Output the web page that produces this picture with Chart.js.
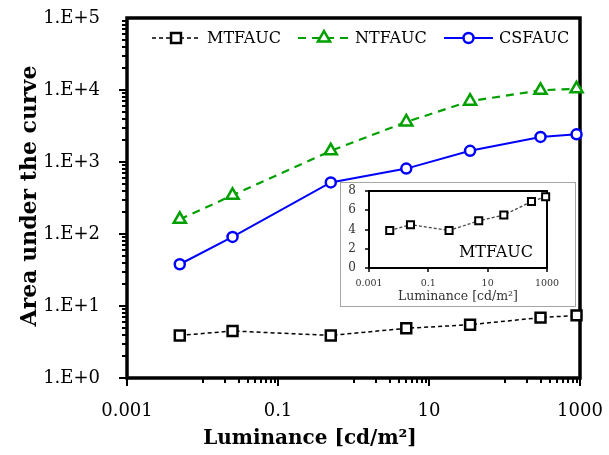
<!DOCTYPE html>
<html>
<head>
<meta charset="utf-8">
<script src="https://cdn.jsdelivr.net/npm/chart.js@4.4.0/dist/chart.umd.min.js"></script>
<style>
  body { margin: 0; background: #fff; }
  #wrap { position: relative; width: 609px; height: 455px; }
  #inset { position: absolute; left: 340px; top: 182px; width: 234px; height: 123px;
           border: 1px solid #a6a6a6; background: #fff; }
  canvas { display: block; }
</style>
</head>
<body>
<div id="wrap">
  <canvas id="main" width="609" height="455"></canvas>
  <div id="inset"><canvas id="small" width="234" height="123"></canvas></div>
</div>
<script>
// values
var luminance = [0.005, 0.025, 0.5, 5, 35, 300, 900];
var mtfauc = [3.9, 4.5, 3.9, 4.9, 5.5, 6.9, 7.4];
var ntfauc = [160, 345, 1430, 3600, 7000, 9900, 10400];
var csfauc = [38, 91, 520, 810, 1430, 2230, 2420];
var seriesNames = ['MTFAUC', 'NTFAUC', 'CSFAUC'];
var xTicks = [0.001, 0.1, 10, 1000];
var yTicks = [1, 10, 100, 1000, 10000, 100000];
var insetYTicks = [0, 2, 4, 6, 8];

var FONT = '"DejaVu Serif", serif';

function pts(ys) {
  return luminance.map(function (x, i) { return { x: x, y: ys[i] }; });
}

// fixed scale size, no extra room for overhanging labels
function fixSize(prop, n) {
  return function (s) {
    s[prop] = n;
    s.paddingTop = s.paddingBottom = s.paddingLeft = s.paddingRight = 0;
  };
}

function marker(ctx, style, x, y, r) {
  ctx.beginPath();
  if (style === 'rect') {
    var s = r * Math.SQRT1_2;
    ctx.rect(x - s, y - s, 2 * s, 2 * s);
  } else if (style === 'triangle') {
    for (var i = 0; i < 3; i++) {
      var a = i * 2 * Math.PI / 3;
      var px = x + Math.sin(a) * r, py = y - Math.cos(a) * r;
      if (i === 0) ctx.moveTo(px, py); else ctx.lineTo(px, py);
    }
    ctx.closePath();
  } else {
    ctx.arc(x, y, r, 0, Math.PI * 2);
  }
  ctx.fillStyle = '#fff';
  ctx.fill();
  ctx.stroke();
}

// legend line start, line end, text start
var legendPos = [[152, 200, 207], [298, 350, 355], [444, 493, 499]];

var mainDeco = {
  id: 'mainDeco',
  beforeDatasetsDraw: function (chart) {
    var ctx = chart.ctx, a = chart.chartArea;
    var xs = chart.scales.x, ys = chart.scales.y;
    ctx.save();
    ctx.strokeStyle = '#000';
    ctx.lineWidth = 2;
    ctx.beginPath();
    // y ticks, major + minor
    for (var e = 0; e < 5; e++) {
      for (var k = 1; k < 10; k++) {
        var py = Math.round(ys.getPixelForValue(k * Math.pow(10, e)));
        var len = k === 1 ? 8 : 5;
        ctx.moveTo(a.left - len, py); ctx.lineTo(a.left, py);
      }
    }
    // x ticks, major every 2 decades, minor at 10..90 x major
    xTicks.forEach(function (m) {
      var px = Math.round(xs.getPixelForValue(m));
      ctx.moveTo(px, a.bottom); ctx.lineTo(px, a.bottom + 8);
      if (m < 1000) {
        for (var k = 1; k < 10; k++) {
          var q = Math.round(xs.getPixelForValue(m * 10 * k));
          ctx.moveTo(q, a.bottom); ctx.lineTo(q, a.bottom + 5);
        }
      }
    });
    ctx.stroke();
    ctx.lineWidth = 3.5;
    ctx.strokeRect(a.left, a.top, a.right - a.left, a.bottom - a.top);
    ctx.restore();
  },
  afterDraw: function (chart) {
    var ctx = chart.ctx;
    ctx.save();
    // legend
    chart.data.datasets.forEach(function (ds, i) {
      var p = legendPos[i], y = 38;
      ctx.strokeStyle = ds.borderColor;
      ctx.lineWidth = ds.borderWidth;
      ctx.setLineDash(ds.borderDash || []);
      ctx.beginPath(); ctx.moveTo(p[0], y); ctx.lineTo(p[1], y); ctx.stroke();
      ctx.setLineDash([]);
      ctx.lineWidth = ds.pointBorderWidth;
      marker(ctx, ds.pointStyle, (p[0] + p[1]) / 2, y, ds.pointRadius);
      ctx.fillStyle = '#000';
      ctx.font = '16px ' + FONT;
      ctx.textBaseline = 'middle';
      ctx.textAlign = 'left';
      ctx.fillText(ds.label, p[2], y + 1);
    });
    // axis titles
    ctx.fillStyle = '#000';
    ctx.textAlign = 'center';
    ctx.textBaseline = 'middle';
    ctx.font = 'bold 20px ' + FONT;
    ctx.fillText('Luminance [cd/m\u00B2]', 310, 439);
    ctx.font = 'bold 22px ' + FONT;
    ctx.translate(30, 196);
    ctx.rotate(-Math.PI / 2);
    ctx.fillText('Area under the curve', 0, 0);
    ctx.restore();
  }
};

new Chart(document.getElementById('main'), {
  type: 'line',
  data: {
    datasets: [{
      label: seriesNames[0],
      data: pts(mtfauc),
      borderColor: '#000',
      borderWidth: 1.5,
      borderDash: [4, 3],
      pointStyle: 'rect',
      pointRadius: 7,
      pointBorderWidth: 2.5,
      pointBorderColor: '#000',
      pointBackgroundColor: '#fff'
    }, {
      label: seriesNames[1],
      data: pts(ntfauc),
      borderColor: '#00a000',
      borderWidth: 2.2,
      borderDash: [8, 6],
      pointStyle: 'triangle',
      pointRadius: 7,
      pointBorderWidth: 2.5,
      pointBorderColor: '#00a000',
      pointBackgroundColor: '#fff'
    }, {
      label: seriesNames[2],
      data: pts(csfauc),
      borderColor: '#0000ff',
      borderWidth: 2,
      pointStyle: 'circle',
      pointRadius: 5,
      pointBorderWidth: 2.5,
      pointBorderColor: '#0000ff',
      pointBackgroundColor: '#fff'
    }]
  },
  options: {
    responsive: false,
    animation: false,
    clip: false,
    layout: { autoPadding: false, padding: { top: 18, right: 29, left: 0, bottom: 0 } },
    plugins: { legend: { display: false }, tooltip: { enabled: false } },
    scales: {
      x: {
        type: 'logarithmic', min: 0.001, max: 1000,
        grid: { display: false, drawTicks: false },
        border: { display: false },
        afterBuildTicks: function (s) { s.ticks = xTicks.map(function (v) { return { value: v }; }); },
        afterFit: fixSize('height', 77),
        ticks: {
          autoSkip: false, maxRotation: 0, padding: 23, color: '#000',
          font: { family: FONT, size: 18 },
          callback: function (v) { return String(v); }
        }
      },
      y: {
        type: 'logarithmic', min: 1, max: 100000,
        grid: { display: false, drawTicks: false },
        border: { display: false },
        afterBuildTicks: function (s) { s.ticks = yTicks.map(function (v) { return { value: v }; }); },
        afterFit: fixSize('width', 127),
        ticks: {
          autoSkip: false, padding: 27, color: '#000',
          font: { family: FONT, size: 18 },
          callback: function (v) { return '1.E+' + Math.round(Math.log10(v)); }
        }
      }
    }
  },
  plugins: [mainDeco]
});

var insetDeco = {
  id: 'insetDeco',
  beforeDatasetsDraw: function (chart) {
    var ctx = chart.ctx, a = chart.chartArea;
    var xs = chart.scales.x, ys = chart.scales.y;
    ctx.save();
    ctx.strokeStyle = '#000';
    ctx.lineWidth = 1.5;
    ctx.beginPath();
    insetYTicks.forEach(function (v) {
      var py = Math.round(ys.getPixelForValue(v));
      ctx.moveTo(a.left - 4, py); ctx.lineTo(a.left, py);
    });
    xTicks.forEach(function (v) {
      var px = Math.round(xs.getPixelForValue(v));
      ctx.moveTo(px, a.bottom); ctx.lineTo(px, a.bottom + 4);
    });
    ctx.stroke();
    ctx.lineWidth = 2;
    ctx.strokeRect(a.left, a.top, a.right - a.left, a.bottom - a.top);
    ctx.restore();
  },
  afterDraw: function (chart) {
    var ctx = chart.ctx, a = chart.chartArea;
    ctx.save();
    ctx.fillStyle = '#000';
    ctx.textAlign = 'center';
    ctx.textBaseline = 'middle';
    ctx.font = '16px ' + FONT;
    ctx.fillText('MTFAUC', 155, 70);
    ctx.fillStyle = '#333';
    ctx.font = '12.5px ' + FONT;
    ctx.fillText('Luminance [cd/m\u00B2]', (a.left + a.right) / 2, 114);
    ctx.restore();
  }
};

new Chart(document.getElementById('small'), {
  type: 'line',
  data: {
    datasets: [{
      label: seriesNames[0],
      data: pts(mtfauc),
      borderColor: '#444',
      borderWidth: 1.3,
      borderDash: [3, 2],
      pointStyle: 'rect',
      pointRadius: 5,
      pointBorderWidth: 2,
      pointBorderColor: '#000',
      pointBackgroundColor: '#fff'
    }]
  },
  options: {
    responsive: false,
    animation: false,
    clip: false,
    layout: { autoPadding: false, padding: { top: 8, right: 28, left: 0, bottom: 0 } },
    plugins: { legend: { display: false }, tooltip: { enabled: false } },
    scales: {
      x: {
        type: 'logarithmic', min: 0.001, max: 1000,
        grid: { display: false, drawTicks: false },
        border: { display: false },
        afterBuildTicks: function (s) { s.ticks = xTicks.map(function (v) { return { value: v }; }); },
        afterFit: fixSize('height', 38),
        ticks: {
          autoSkip: false, maxRotation: 0, padding: 10, color: '#333',
          font: { family: FONT, size: 9.5 },
          callback: function (v) { return String(v); }
        }
      },
      y: {
        type: 'linear', min: 0, max: 8,
        grid: { display: false, drawTicks: false },
        border: { display: false },
        afterBuildTicks: function (s) { s.ticks = insetYTicks.map(function (v) { return { value: v }; }); },
        afterFit: fixSize('width', 28),
        ticks: {
          autoSkip: false, padding: 13, color: '#333',
          font: { family: FONT, size: 12 }
        }
      }
    }
  },
  plugins: [insetDeco]
});
</script>
</body>
</html>
